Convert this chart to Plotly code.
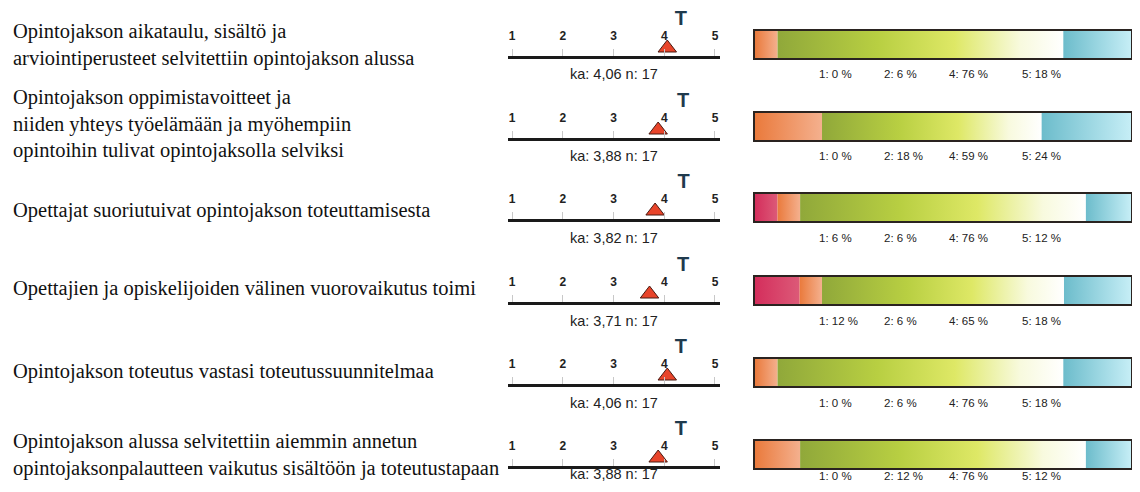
import plotly.graph_objects as go

questions = [
    "Opintojakson aikataulu, sisältö ja<br>arviointiperusteet selvitettiin opintojakson alussa",
    "Opintojakson oppimistavoitteet ja<br>niiden yhteys työelämään ja myöhempiin<br>opintoihin tulivat opintojaksolla selviksi",
    "Opettajat suoriutuivat opintojakson toteuttamisesta",
    "Opettajien ja opiskelijoiden välinen vuorovaikutus toimi",
    "Opintojakson toteutus vastasi toteutussuunnitelmaa",
    "Opintojakson alussa selvitettiin aiemmin annetun<br>opintojaksonpalautteen vaikutus sisältöön ja toteutustapaan",
]
means = [4.06, 3.88, 3.82, 3.71, 4.06, 3.88]
means_txt = ["4,06", "3,88", "3,82", "3,71", "4,06", "3,88"]
ns = [17, 17, 17, 17, 17, 17]
t_marks = [4.33, 4.37, 4.38, 4.37, 4.33, 4.33]
p1 = [0, 0, 6, 12, 0, 0]
p2 = [6, 18, 6, 6, 6, 12]
p4 = [76, 59, 76, 65, 76, 76]
p5 = [18, 24, 12, 18, 18, 12]
scale_ticks = [1, 2, 3, 4, 5]

# ---- styling / geometry (page pixels; the page body has an 8px margin) ----
OFF = 8
W, H = 1124, 476
def pxx(x): return min(max((x - OFF) / W, 0), 1)
def pyy(y): return min(max(1 - (y - OFF) / H, 0), 1)

line_y = [56, 138, 219, 302, 384, 466]
text_y = [45, 124, 210, 288, 371, 455]
label_y = [74, 156, 238, 321, 403, 484]

scales = {
    "1": [[0, "#d42e5c"], [1, "#dc5a78"]],
    "2": [[0, "#ea7a3c"], [1, "#f4b08e"]],
    "4": [[0, "#90a83a"], [0.35, "#b8cf42"], [0.62, "#dee866"], [0.85, "#f8fade"], [1, "#ffffff"]],
    "5": [[0, "#6cbccb"], [1, "#c6eef6"]],
}
solid = {"1": "#d63a64", "2": "#ec8a50", "4": "#c8da5a", "5": "#8fd0dc"}

fig = go.Figure()
layout = {}
annotations = []

for i in range(6):
    sa = 2 * i + 1
    ba = 2 * i + 2
    sx, sy = ("x" if sa == 1 else f"x{sa}"), ("y" if sa == 1 else f"y{sa}")
    bx, by = f"x{ba}", f"y{ba}"
    ly = line_y[i]

    # scale axes
    layout["xaxis" if sa == 1 else f"xaxis{sa}"] = dict(
        domain=[pxx(508), pxx(720)], range=[0.921, 5.099], anchor=sy,
        showline=True, linecolor="#1a1a1a", linewidth=2.5,
        ticks="inside", ticklen=7, tickcolor="#c8c8c8", tickwidth=1,
        tickvals=scale_ticks, showticklabels=False, showgrid=False, zeroline=False, fixedrange=True)
    layout["yaxis" if sa == 1 else f"yaxis{sa}"] = dict(
        domain=[pyy(ly), pyy(ly - 40)], range=[0, 1], anchor=sx,
        visible=False, fixedrange=True)

    fig.add_trace(go.Scatter(
        x=scale_ticks, y=[0.47] * 5, mode="text", xaxis=sx, yaxis=sy,
        text=[f"<b>{t}</b>" for t in scale_ticks],
        textfont=dict(family="Liberation Sans", size=12, color="#222"),
        cliponaxis=False, showlegend=False, hoverinfo="skip"))
    fig.add_trace(go.Scatter(
        x=[t_marks[i]], y=[0.9], mode="text", xaxis=sx, yaxis=sy,
        text=["<b>T</b>"], textfont=dict(family="Liberation Sans", size=20, color="#1f3a4d"),
        cliponaxis=False, showlegend=False, hoverinfo="skip"))
    fig.add_trace(go.Scatter(
        x=[means[i]], y=[0.2], mode="markers", xaxis=sx, yaxis=sy,
        marker=dict(symbol="triangle-up", size=16, color="#e8442a",
                    line=dict(color="#4a1a12", width=1)),
        cliponaxis=False, showlegend=False, hoverinfo="skip"))
    annotations.append(dict(
        xref=f"{sx} domain", yref="paper", x=0.5, y=pyy(label_y[i]),
        text=f"ka: {means_txt[i]} n: {ns[i]}", showarrow=False,
        font=dict(family="Liberation Sans", size=14.5, color="#222"),
        xanchor="center", yanchor="bottom" if i == 5 else "middle"))

    # bar axes
    total = p1[i] + p2[i] + p4[i] + p5[i]
    layout[f"xaxis{ba}"] = dict(
        domain=[pxx(755), pxx(1131)], range=[0, total], anchor=by,
        showline=True, mirror=True, linecolor="#2a2320", linewidth=1.5,
        showticklabels=False, ticks="", showgrid=False, zeroline=False, fixedrange=True)
    layout[f"yaxis{ba}"] = dict(
        domain=[pyy(ly + 2), pyy(ly - 25)], range=[0, 1], anchor=bx,
        showline=True, mirror=True, linecolor="#2a2320", linewidth=1.5,
        showticklabels=False, ticks="", showgrid=False, zeroline=False, fixedrange=True)

    base = 0
    for key, vals in (("1", p1), ("2", p2), ("4", p4), ("5", p5)):
        v = vals[i]
        if v > 0:
            fig.add_trace(go.Scatter(
                x=[base, base + v, base + v, base, base], y=[0, 0, 1, 1, 0],
                mode="lines", fill="toself", line=dict(width=0),
                fillcolor=solid[key],
                fillgradient=dict(type="horizontal", colorscale=scales[key]),
                xaxis=bx, yaxis=by, showlegend=False, hoverinfo="skip"))
        base += v

    for xp, lab, v in ((817, "1", p1[i]), (882, "2", p2[i]), (947, "4", p4[i]), (1020, "5", p5[i])):
        annotations.append(dict(
            xref="paper", yref="paper", x=pxx(xp), y=pyy(label_y[i]),
            text=f"{lab}: {v} %", showarrow=False,
            font=dict(family="Liberation Sans", size=11.5, color="#222"),
            xanchor="left", yanchor="bottom" if i == 5 else "middle"))

    annotations.append(dict(
        xref="paper", yref="paper", x=pxx(11), y=pyy(text_y[i]),
        text=questions[i], showarrow=False, align="left",
        font=dict(family="Liberation Serif", size=20.5, color="#111"),
        xanchor="left", yanchor="middle"))

fig.update_layout(
    width=W, height=H, margin=dict(l=0, r=0, t=0, b=0),
    paper_bgcolor="white", plot_bgcolor="rgba(0,0,0,0)",
    annotations=annotations, **layout)

fig.write_html("out.html")
